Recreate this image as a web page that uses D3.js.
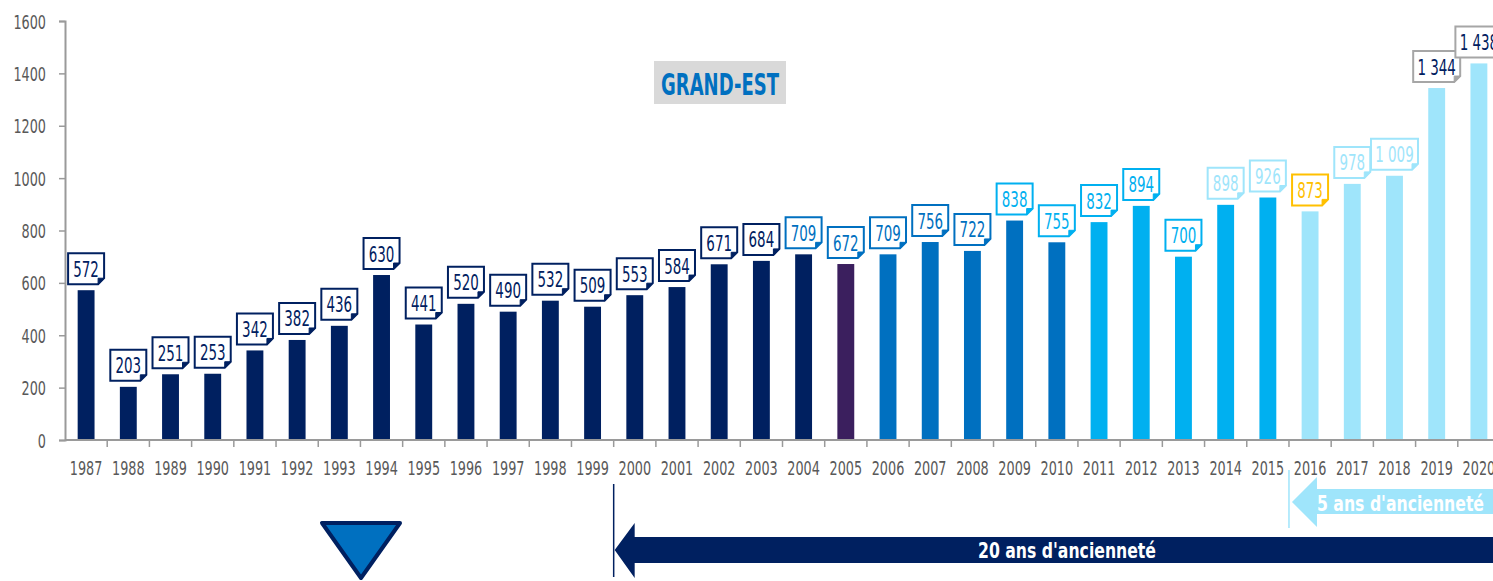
<!DOCTYPE html>
<html><head><meta charset="utf-8">
<script src="https://cdn.jsdelivr.net/npm/d3@7"></script>
<style>
html,body{margin:0;padding:0;background:#fff;}
svg{display:block;}
text{font-family:"DejaVu Sans","Liberation Sans",sans-serif;}
</style></head>
<body>
<svg id="chart" width="1493" height="581"></svg>
<script>
const years = ["1987","1988","1989","1990","1991","1992","1993","1994","1995","1996","1997","1998","1999","2000","2001","2002","2003","2004","2005","2006","2007","2008","2009","2010","2011","2012","2013","2014","2015","2016","2017","2018","2019","2020"];
const values = [572,203,251,253,342,382,436,630,441,520,490,532,509,553,584,671,684,709,672,709,756,722,838,755,832,894,700,898,926,873,978,1009,1344,1438];
const yTicks = [0,200,400,600,800,1000,1200,1400,1600];
const barColors = ["#002060","#002060","#002060","#002060","#002060","#002060","#002060","#002060","#002060","#002060","#002060","#002060","#002060","#002060","#002060","#002060","#002060","#002060","#3B1F5E","#0070C0","#0070C0","#0070C0","#0070C0","#0070C0","#00B0F0","#00B0F0","#00B0F0","#00B0F0","#00B0F0","#9FE5FB","#9FE5FB","#9FE5FB","#9FE5FB","#9FE5FB"];
const labelStroke = ["#002060","#002060","#002060","#002060","#002060","#002060","#002060","#002060","#002060","#002060","#002060","#002060","#002060","#002060","#002060","#002060","#002060","#0070C0","#0070C0","#0070C0","#0070C0","#0070C0","#00B0F0","#00B0F0","#00B0F0","#00B0F0","#00B0F0","#9FE5FB","#9FE5FB","#FFC000","#9FE5FB","#9FE5FB","#A6A6A6","#A6A6A6"];
const labelText = ["#002060","#002060","#002060","#002060","#002060","#002060","#002060","#002060","#002060","#002060","#002060","#002060","#002060","#002060","#002060","#002060","#002060","#0070C0","#0070C0","#0070C0","#0070C0","#0070C0","#00B0F0","#00B0F0","#00B0F0","#00B0F0","#00B0F0","#9FE5FB","#9FE5FB","#FFC000","#9FE5FB","#9FE5FB","#002060","#002060"];
const title = "GRAND-EST";
const arrow20 = "20 ans d'ancienneté";
const arrow5 = "5 ans d'ancienneté";

const svg = d3.select("#chart");
const x0 = 65, x1 = 1500, yBase = 440, yTop = 21;
const x = d3.scaleBand().domain(years).range([x0, x1]).paddingInner(0.6).paddingOuter(0.3);
const y = d3.scaleLinear().domain([0,1600]).range([yBase, yTop]);
const step = x.step();
const fmt = v => v >= 1000 ? Math.floor(v/1000) + " " + String(v%1000).padStart(3,"0") : String(v);
const SX = 0.64;

// condensed text helper
function ctext(parent, tx, ty, str, size, fill, anchor, weight, sx) {
  return parent.append("text")
    .attr("transform", `translate(${tx},${ty}) scale(${sx||SX},1)`)
    .attr("text-anchor", anchor || "middle")
    .attr("font-size", size).attr("font-weight", weight || "normal")
    .attr("fill", fill).text(str);
}

// bars
svg.append("g").selectAll("rect").data(values).join("rect")
  .attr("x", (d,i)=>x(years[i]))
  .attr("y", d=>y(d))
  .attr("width", x.bandwidth())
  .attr("height", d=>yBase - y(d))
  .attr("fill", (d,i)=>barColors[i]);

// y axis
const yAxis = svg.append("g").attr("transform",`translate(${x0},0)`)
  .call(d3.axisLeft(y).tickValues(yTicks).tickSize(6).tickFormat(""));
yAxis.select(".domain").attr("stroke","#9a9a9a").attr("stroke-width",2);
yAxis.selectAll(".tick line").attr("stroke","#9a9a9a").attr("stroke-width",1.5);
yAxis.selectAll(".tick").each(function(d){
  ctext(d3.select(this), -19, 7, String(d), 20, "#595959", "end");
});

// x axis: line and boundary ticks
svg.append("line").attr("x1",x0).attr("x2",1493).attr("y1",yBase).attr("y2",yBase).attr("stroke","#9a9a9a").attr("stroke-width",2);
svg.append("g").selectAll("line").data(d3.range(1, years.length+1)).join("line")
  .attr("x1", i=>x0 + i*step).attr("x2", i=>x0 + i*step)
  .attr("y1", yBase).attr("y2", yBase+7).attr("stroke","#9a9a9a").attr("stroke-width",1.5);
const xl = svg.append("g");
years.forEach(d => ctext(xl, x(d)+x.bandwidth()/2, 475, d, 20, "#595959"));

// labels
const lg = svg.append("g");
values.forEach((v,i)=>{
  const txt = fmt(v);
  const w = txt.length > 3 ? 47 : 36, h = 31, f = 6;
  const cx = x(years[i]) + x.bandwidth()/2;
  const bx = cx - w/2, by = y(v) - 6 - h;
  const g = lg.append("g");
  g.append("path")
    .attr("d",`M${bx},${by}H${bx+w}V${by+h-f}L${bx+w-f},${by+h}H${bx}Z`)
    .attr("fill","#fff").attr("stroke",labelStroke[i]).attr("stroke-width",2);
  g.append("path")
    .attr("d",`M${bx+w},${by+h-f}L${bx+w-f},${by+h}L${bx+w-f},${by+h-f}Z`)
    .attr("fill",labelStroke[i]).attr("stroke",labelStroke[i]).attr("stroke-width",1);
  ctext(g, bx + w/2, by + h/2 + 8, txt, 21, labelText[i]);
});

// title
svg.append("rect").attr("x",654).attr("y",61).attr("width",132).attr("height",43).attr("fill","#D9D9D9");
ctext(svg, 720, 95, title, 30, "#0070C0", "middle", "bold", 0.6);

// 20 ans arrow
const b20 = x0 + 13*step;
svg.append("line").attr("x1",b20).attr("x2",b20).attr("y1",484).attr("y2",577).attr("stroke","#002060").attr("stroke-width",1.5);
svg.append("path").attr("d",`M${b20+1},550L${b20+21},523V537H1493V563H${b20+21}V578Z`).attr("fill","#002060");
svg.append("text").attr("x",978).attr("y",558).attr("font-size",22).attr("font-weight","bold").attr("fill","#fff")
  .attr("textLength",178).attr("lengthAdjust","spacingAndGlyphs").text(arrow20);

// 5 ans arrow
const b5 = x0 + 29*step;
svg.append("line").attr("x1",b5).attr("x2",b5).attr("y1",470).attr("y2",528).attr("stroke","#9FE5FB").attr("stroke-width",1.5);
svg.append("path").attr("d",`M${b5+3},502L${b5+28},477V489H1493V514H${b5+28}V527Z`).attr("fill","#9FE5FB");
svg.append("text").attr("x",1317).attr("y",511).attr("font-size",22).attr("font-weight","bold").attr("fill","#fff")
  .attr("textLength",167).attr("lengthAdjust","spacingAndGlyphs").text(arrow5);

// triangle
svg.append("path").attr("d","M322,523H400L361,578Z").attr("fill","#0070C0").attr("stroke","#002060").attr("stroke-width",4).attr("stroke-linejoin","round");
</script>
</body></html>
